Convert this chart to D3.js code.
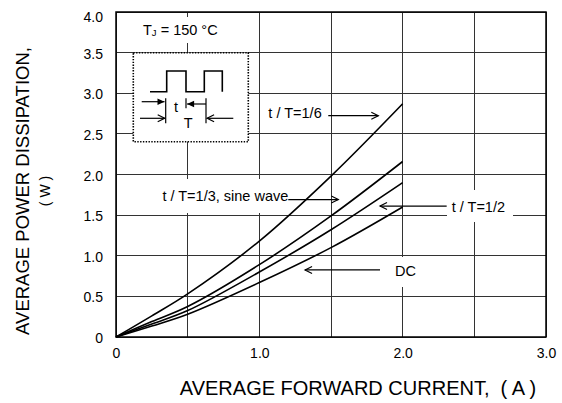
<!DOCTYPE html>
<meta charset="utf-8">
<title>Average Power Dissipation</title>
<style>
body {
  margin: 0;
  background: #fff;
}
text {
  font-family: "Liberation Sans", Arial, sans-serif;
  fill: #000;
}
.grid line {
  stroke: #333;
  stroke-width: 1;
  shape-rendering: crispEdges;
}
.curve {
  fill: none;
  stroke: #000;
  stroke-width: 1.6;
}
</style>
<body>
<script src="https://d3js.org/d3.v7.min.js"></script>
<script>
// values
var current = [0, 0.25, 0.5, 1.0, 1.5, 2.0];
var sixth   = [0, 0.26, 0.53, 1.18, 1.98, 2.87];
var third   = [0, 0.19, 0.375, 0.89, 1.49, 2.16];
var half    = [0, 0.16, 0.325, 0.80, 1.32, 1.90];
var dc      = [0, 0.135, 0.28, 0.67, 1.10, 1.60];

var xTicks = [0, 0.5, 1.0, 1.5, 2.0, 2.5, 3.0];
var xTickLabels = ["0", "", "1.0", "", "2.0", "", "3.0"];
var yTicks = [0, 0.5, 1.0, 1.5, 2.0, 2.5, 3.0, 3.5, 4.0];
var yTickLabels = ["0", "0.5", "1.0", "1.5", "2.0", "2.5", "3.0", "3.5", "4.0"];

var w = 562,
    h = 403,
    plotLeft = 116,
    plotRight = 546,
    plotTop = 12,
    plotBottom = 337;

var svg = d3.select("body").append("svg")
    .attr("width", w)
    .attr("height", h);

var x = d3.scaleLinear().domain([0, 3]).range([plotLeft, plotRight]);
var y = d3.scaleLinear().domain([0, 4]).range([plotBottom, plotTop]);

// grid
var grid = svg.append("g").attr("class", "grid");
grid.selectAll("line.v")
    .data(xTicks)
  .enter().append("line")
    .attr("class", "v")
    .attr("x1", x).attr("x2", x)
    .attr("y1", y(0)).attr("y2", y(4));
grid.selectAll("line.h")
    .data(yTicks)
  .enter().append("line")
    .attr("class", "h")
    .attr("y1", y).attr("y2", y)
    .attr("x1", x(0)).attr("x2", x(3));

// tick labels through axes
var xAxis = svg.append("g")
    .attr("transform", "translate(0," + plotBottom + ")")
    .call(d3.axisBottom(x).tickValues(xTicks).tickSize(0).tickPadding(11)
      .tickFormat(function(d, i) { return xTickLabels[i]; }));
var yAxis = svg.append("g")
    .attr("transform", "translate(" + plotLeft + ",0)")
    .call(d3.axisLeft(y).tickValues(yTicks).tickSize(0).tickPadding(13)
      .tickFormat(function(d, i) { return yTickLabels[i]; }));
[xAxis, yAxis].forEach(function(a) {
  a.select(".domain").remove();
  a.selectAll("text")
      .style("font-family", '"Liberation Sans", Arial, sans-serif')
      .style("font-size", "14px")
      .attr("fill", "#000");
});
yAxis.selectAll("text").attr("dy", "0.4em");
yAxis.selectAll(".tick").filter(function(d) { return d === 4; })
    .select("text").attr("dy", "0.7em");

// frame
svg.append("rect")
    .attr("x", x(0)).attr("y", y(4))
    .attr("width", x(3) - x(0)).attr("height", y(0) - y(4))
    .attr("fill", "none")
    .attr("stroke", "#000")
    .attr("stroke-width", 1.5);

// white patches behind labels
function patch(x0, y0, x1, y1) {
  svg.append("rect")
      .attr("x", x0).attr("y", y0)
      .attr("width", x1 - x0).attr("height", y1 - y0)
      .attr("fill", "#fff");
}
patch(140, 17, 222, 43);
patch(155, 179, 292, 213);
patch(447, 190, 513, 222);
patch(388, 257, 423, 287);

// curves
var line = d3.line()
    .x(function(d, i) { return x(current[i]); })
    .y(function(d) { return y(d); })
    .curve(d3.curveCatmullRom);
[sixth, third, half, dc].forEach(function(s) {
  svg.append("path")
      .attr("class", "curve")
      .attr("d", line(s));
});

// arrows
function arrow(g, x1, y1, x2, y2, filled) {
  g.append("line")
      .attr("x1", x1).attr("y1", y1)
      .attr("x2", x2).attr("y2", y2)
      .attr("stroke", "#000").attr("stroke-width", 1.2);
  var dir = x2 > x1 ? -1 : 1;
  if (filled) {
    g.append("path")
        .attr("d", "M" + x2 + "," + y2 + "L" + (x2 + dir * 7) + "," + (y2 - 3.2) +
          "L" + (x2 + dir * 7) + "," + (y2 + 3.2) + "Z")
        .attr("fill", "#000");
  } else {
    g.append("path")
        .attr("d", "M" + (x2 + dir * 7) + "," + (y2 - 3.5) + "L" + x2 + "," + y2 +
          "L" + (x2 + dir * 7) + "," + (y2 + 3.5))
        .attr("fill", "none").attr("stroke", "#000").attr("stroke-width", 1.2);
  }
}
function label(tx, ty, str, anchor) {
  svg.append("text")
      .attr("x", tx).attr("y", ty)
      .attr("text-anchor", anchor || "start")
      .style("font-size", "14.5px")
      .text(str);
}

label(x(1.063), y(2.695), "t / T=1/6");
arrow(svg, x(1.481), y(2.724), x(1.830), y(2.724));
label(x(1.202), y(1.678), "t / T=1/3, sine wave", "end");
arrow(svg, x(1.202), y(1.692), x(1.551), y(1.692));
label(x(2.342), y(1.542), "t / T=1/2");
arrow(svg, x(2.307), y(1.612), x(1.842), y(1.612));
label(x(1.947), y(0.751), "DC");
arrow(svg, x(1.842), y(0.825), x(1.319), y(0.825));

// junction temperature
var tj = svg.append("text")
    .attr("x", 143).attr("y", 35)
    .style("font-size", "14.5px");
tj.append("tspan").text("T");
tj.append("tspan").style("font-size", "9.5px").attr("dy", 1).text("J");
tj.append("tspan").attr("dy", -1).text(" = 150 \u00b0C");

// inset
var inset = svg.append("g")
    .attr("transform", "translate(133.3,52.7)");
inset.append("rect")
    .attr("width", 115).attr("height", 89)
    .attr("fill", "#fff")
    .attr("stroke", "#000")
    .attr("stroke-width", 1.6)
    .attr("stroke-dasharray", "1.4,1.4");
inset.append("path")
    .attr("d", "M16.7,39H33.4V18.3H52.7V39H71V18.3H89V39")
    .attr("fill", "none").attr("stroke", "#000").attr("stroke-width", 1.6);
[[32.4, 45.6, 70.6], [52.7, 45.6, 55.6], [72.7, 45.6, 70.6]].forEach(function(t) {
  inset.append("line")
      .attr("x1", t[0]).attr("x2", t[0])
      .attr("y1", t[1]).attr("y2", t[2])
      .attr("stroke", "#000").attr("stroke-width", 1.2);
});
arrow(inset, 8.4, 49, 31.2, 49, true);
arrow(inset, 72.7, 51.3, 53.8, 51.3, true);
arrow(inset, 6.7, 65.6, 31.4, 65.6, false);
arrow(inset, 100, 65.6, 73.8, 65.6, false);
inset.append("text")
    .attr("x", 42.7).attr("y", 59)
    .attr("text-anchor", "middle")
    .style("font-size", "14.5px")
    .text("t");
inset.append("text")
    .attr("x", 55).attr("y", 75.6)
    .attr("text-anchor", "middle")
    .style("font-size", "14.5px")
    .text("T");

// axis titles
svg.append("text")
    .attr("x", 358).attr("y", 395)
    .attr("text-anchor", "middle")
    .style("font-size", "20px")
    .text("AVERAGE FORWARD CURRENT,\u00a0 ( A )");
svg.append("text")
    .attr("transform", "translate(28.5,191)rotate(-90)")
    .attr("text-anchor", "middle")
    .style("font-size", "18.5px")
    .text("AVERAGE POWER DISSIPATION,");
svg.append("text")
    .attr("transform", "translate(50,191)rotate(-90)")
    .attr("text-anchor", "middle")
    .style("font-size", "14px")
    .text("( W )");
</script>
